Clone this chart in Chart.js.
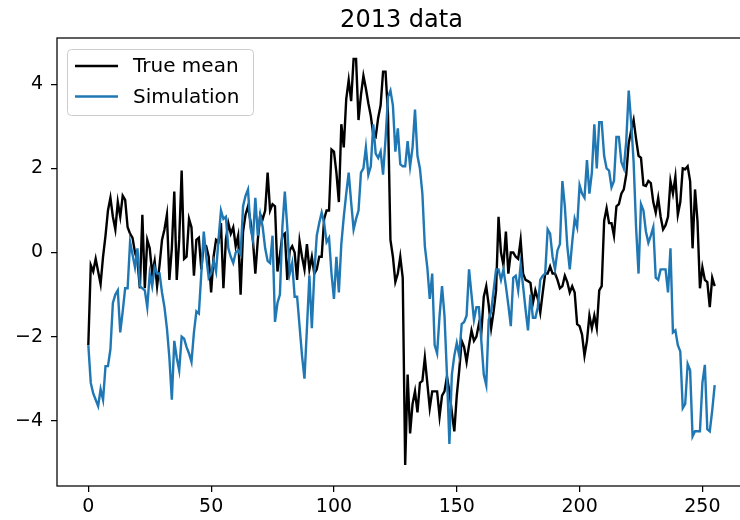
<!DOCTYPE html>
<html>
<head>
<meta charset="utf-8">
<script src="https://cdn.jsdelivr.net/npm/chart.js@4/dist/chart.umd.min.js"></script>
<style>
  html, body { margin: 0; padding: 0; background: #fff; overflow: hidden; }
  #wrap { position: absolute; left: 0; top: 0; width: 760px; height: 520px; }
</style>
</head>
<body>
<div id="wrap"><canvas id="chart" width="760" height="520"></canvas></div>
<script>
const titleText = "2013 data";
const seriesNames = ["True mean", "Simulation"];
const xTicks = [0, 50, 100, 150, 200, 250];
const yTicks = [-4, -2, 0, 2, 4];

const trueMean = [
  -2.2, -0.3, -0.45, -0.15, -0.45, -0.75, -0.1, 0.4, 1.0, 1.3,
  0.85, 0.55, 1.2, 0.85, 1.35, 1.25, 0.6, 0.45, 0.35, 0.0,
  -0.2, -0.85, 0.9, -0.85, 0.3, 0.1, -0.5, -0.2, -0.8, -0.3,
  0.3, 0.55, 0.9, -0.65, 0.1, 1.45, -0.65, 0.3, 1.95, -0.15,
  -0.1, 0.8, 0.6, -0.55, 0.3, 0.35, -0.4, 0.2, 0.15, -0.1,
  -0.95, -0.1, 0.3, 0.25, 0.7, -0.85, 0.3, 0.7, 0.45, 0.6,
  0.15, 0.4, -1.0, 0.5, 0.9, 1.1, 0.75, 0.3, -0.5, 0.3,
  0.9, 0.8, 1.0, 1.9, 1.0, 1.15, 1.1, -0.45, -0.05, 0.4,
  0.45, -0.65, 0.05, 0.15, 0.0, -0.65, 0.27, -0.1, -0.4, 0.2,
  -0.4, -0.1, -0.5, -0.4, -0.1, -0.1, 0.8, 1.0, 1.0, 2.45,
  2.4, 1.9, 1.2, 3.05, 2.5, 3.65, 4.1, 3.6, 4.6, 4.6,
  3.15, 3.75, 4.2, 3.9, 3.55, 3.25, 2.8, 2.75, 3.2, 3.5,
  4.3, 4.3, 3.3, 0.3, -0.1, -0.7, -0.5, -0.1, -0.6, -5.05,
  -2.9, -4.3, -3.6, -3.3, -3.8, -3.1, -3.05, -2.5, -3.1, -3.7,
  -3.3, -3.3, -3.3, -3.9, -3.4, -3.3, -2.95, -3.3, -3.8, -4.25,
  -3.4, -2.8, -2.1, -2.25, -2.6, -2.2, -1.85, -2.1, -2.0, -1.7,
  -1.9, -1.05, -0.8, -1.25, -1.8, -1.4, -0.9, 0.85, 0.0, -0.3,
  0.5, -0.5, 0.0, 0.0, -0.1, -0.15, 0.3, -0.5, -0.65, -0.68,
  -0.72, -1.2, -0.9, -1.1, -1.43, -0.95, -0.5, -0.5, -0.33, -0.5,
  -0.5, -0.65, -0.85, -0.8, -0.55, -0.7, -0.95, -0.8, -0.95, -1.7,
  -1.75, -1.95, -2.45, -2.1, -1.5, -1.8, -1.5, -1.8, -0.9, -0.8,
  0.75, 1.05, 0.7, 0.7, 0.4, 1.1, 1.15, 1.4, 1.5, 1.85,
  2.6, 2.9, 3.15, 2.7, 2.3, 2.25, 1.6, 1.58, 1.7, 1.65,
  1.2, 0.95, 1.3, 0.85, 0.55, 0.65, 0.85, 1.7, 1.4, 1.8,
  0.9, 1.2, 2.0, 1.98, 2.05, 1.7, 0.1, 1.5, 0.75, -0.85,
  -0.35, -0.65, -0.7, -1.3, -0.6, -0.8
];

const simulation = [
  -2.2, -3.1, -3.35, -3.5, -3.65, -3.25, -3.5, -2.7, -2.7, -2.3,
  -1.2, -1.0, -0.9, -1.9, -1.4, -0.85, -0.85, 0.25, -0.05, -0.35,
  0.1, -0.8, -0.85, -0.9, -1.3, -0.5, -0.8, -0.35, -0.5, -0.5,
  -0.95, -1.3, -1.8, -2.5, -3.5, -2.1, -2.5, -2.8, -2.0, -2.05,
  -2.25, -2.4, -2.6, -1.9, -1.4, -1.45, -0.5, 0.5, -0.1, -0.6,
  -0.5, -0.2, -0.45, 0.3, 1.0, 0.8, 0.85, 0.1, -0.1, -0.25,
  0.0, 0.05, -0.05, 1.1, 1.35, 1.5, 0.6, 0.3, 1.3, 0.4,
  0.9, 0.6, 0.1, -0.2, -0.25, 0.4, -1.65, -1.2, -1.0, 0.6,
  1.45, 0.6, -0.5, -0.25, -1.05, -1.05, -1.75, -2.45, -3.0, -1.8,
  -0.55, -1.8, -0.5, 0.4, 0.7, 0.95, 0.7, 0.25, 0.35, -0.5,
  -1.1, -0.1, -0.95, 0.2, 0.85, 1.4, 1.9, 1.2, 0.55, 0.8,
  1.0, 1.9, 2.0, 2.5, 1.85, 2.05, 3.05, 2.35, 2.25, 2.4,
  1.85, 2.7, 3.7, 3.85, 3.5, 2.4, 2.95, 2.1, 2.05, 2.05,
  2.65, 2.05, 2.5, 3.4, 2.3, 2.0, 1.4, 0.15, -0.35, -1.1,
  -0.5, -2.2, -2.4, -1.5, -0.8, -1.5, -2.9, -4.55, -2.9, -2.45,
  -2.15, -2.45, -1.7, -1.65, -1.5, -0.4, -1.0, -1.6, -1.3, -1.3,
  -2.1, -2.9, -3.15, -1.6, -1.4, -0.9, -0.4, -0.4, -0.65, -0.4,
  -0.8, -1.25, -1.75, -0.6, -0.55, -0.9, -0.3, -0.8, -1.35, -1.85,
  -1.0, -1.55, -1.55, -1.3, -0.65, -0.55, -0.5, 0.55, 0.45, -0.1,
  -0.4, 0.05, 0.2, 1.7, 1.1, 0.15, -0.4, 0.25, 0.8, 0.6,
  1.6, 1.4, 1.3, 2.2, 1.4, 1.9, 3.05, 2.0, 3.1, 3.1,
  2.3, 2.0, 1.95, 1.55, 1.7, 2.75, 2.75, 2.15, 2.0, 2.65,
  3.85, 3.1, 2.15, 0.6, -0.5, 1.15, 1.0, 0.5, 0.23, 0.4,
  0.6, -0.6, -0.65, -0.4, -0.4, -0.4, -0.95, 0.1, -1.9, -1.85,
  -2.2, -2.35, -3.7, -3.6, -2.65, -2.8, -4.37, -4.25, -4.25, -4.25,
  -3.1, -2.67, -4.2, -4.25, -3.75, -3.15
];

const days = trueMean.map((v, i) => i);
const FONT = "'DejaVu Sans', sans-serif";

// matplotlib-like frame, title and legend
const framePlugin = {
  id: "frame",
  afterDraw(chart) {
    const { ctx, chartArea: a } = chart;
    ctx.save();
    ctx.strokeStyle = "#000";
    ctx.lineWidth = 1.25;
    ctx.strokeRect(a.left, a.top, a.right - a.left, a.bottom - a.top);

    // title centred over the axes
    ctx.font = "24px " + FONT;
    ctx.fillStyle = "#000";
    ctx.textAlign = "center";
    ctx.textBaseline = "alphabetic";
    ctx.fillText(titleText, (a.left + a.right) / 2, 26.5);

    // legend box
    const lx = 67.5, ly = 49.5, lw = 186, lh = 66, r = 4;
    ctx.beginPath();
    ctx.moveTo(lx + r, ly);
    ctx.arcTo(lx + lw, ly, lx + lw, ly + lh, r);
    ctx.arcTo(lx + lw, ly + lh, lx, ly + lh, r);
    ctx.arcTo(lx, ly + lh, lx, ly, r);
    ctx.arcTo(lx, ly, lx + lw, ly, r);
    ctx.closePath();
    ctx.fillStyle = "rgba(255,255,255,0.8)";
    ctx.fill();
    ctx.strokeStyle = "#cccccc";
    ctx.lineWidth = 1;
    ctx.stroke();

    ctx.font = "20px " + FONT;
    ctx.textAlign = "left";
    ctx.textBaseline = "middle";
    ctx.fillStyle = "#000";
    chart.data.datasets.forEach((ds, i) => {
      const y = 66 + i * 30.5;
      ctx.beginPath();
      ctx.moveTo(75, y);
      ctx.lineTo(118, y);
      ctx.strokeStyle = ds.borderColor;
      ctx.lineWidth = 2.4;
      ctx.stroke();
      ctx.fillText(ds.label, 133, y + 1);
    });
    ctx.restore();
  }
};

const fmt = v => (v < 0 ? "\u2212" + Math.abs(v) : String(v));

new Chart(document.getElementById("chart"), {
  type: "line",
  data: {
    labels: days,
    datasets: [
      {
        label: seriesNames[0],
        data: trueMean,
        borderColor: "#000000",
        borderWidth: 2.4,
        pointRadius: 0,
        tension: 0,
        order: 1
      },
      {
        label: seriesNames[1],
        data: simulation,
        borderColor: "#1f77b4",
        borderWidth: 2.4,
        pointRadius: 0,
        tension: 0,
        order: 0
      }
    ]
  },
  options: {
    responsive: false,
    animation: false,
    layout: { padding: { left: 0, right: 14, top: 38, bottom: 0 } },
    plugins: {
      legend: { display: false },
      tooltip: { enabled: false },
      title: { display: false }
    },
    scales: {
      x: {
        type: "linear",
        min: -12.75,
        max: 267.75,
        afterBuildTicks: s => { s.ticks = xTicks.map(v => ({ value: v })); },
        afterFit: s => { s.height = 34; },
        grid: { display: true, drawOnChartArea: false, drawTicks: true, tickLength: 6, color: "#000", lineWidth: 1.25 },
        border: { display: false },
        ticks: {
          color: "#000",
          font: { family: FONT, size: 19 },
          padding: 4,
          maxRotation: 0,
          callback: v => fmt(v)
        }
      },
      y: {
        min: -5.55,
        max: 5.1,
        afterBuildTicks: s => { s.ticks = yTicks.map(v => ({ value: v })); },
        afterFit: s => { s.width = 57; },
        grid: { display: true, drawOnChartArea: false, drawTicks: true, tickLength: 6, color: "#000", lineWidth: 1.25 },
        border: { display: false },
        ticks: {
          color: "#000",
          font: { family: FONT, size: 19 },
          padding: 8,
          callback: v => fmt(v)
        }
      }
    }
  },
  plugins: [framePlugin]
});
</script>
</body>
</html>
